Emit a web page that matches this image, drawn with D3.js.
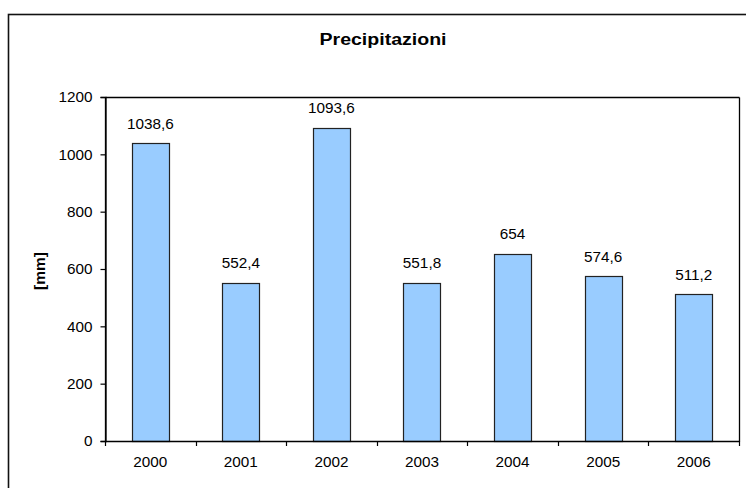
<!DOCTYPE html>
<html><head><meta charset="utf-8">
<script src="https://cdn.jsdelivr.net/npm/d3@7"></script>
<style>body{margin:0;background:#fff}svg{display:block}text{font-family:"Liberation Sans",Arial,sans-serif}</style>
</head><body>
<svg id="c" width="746" height="488"></svg>
<script>
const categories = ["2000","2001","2002","2003","2004","2005","2006"];
const values = [1038.6, 552.4, 1093.6, 551.8, 654, 574.6, 511.2];
const labels = ["1038,6","552,4","1093,6","551,8","654","574,6","511,2"];
const yTicks = [0,200,400,600,800,1000,1200];
const title = "Precipitazioni";
const yTitle = "[mm]";

const svg = d3.select("#c");
const m = {left:105, right:739, top:97, bottom:441};
const FS = 15.3;

svg.append("rect").attr("class","outer").attr("x",8.5).attr("y",14.5).attr("width",745).attr("height",490)
  .attr("fill","none").attr("stroke","#111").attr("stroke-width",1.6);

const x = d3.scaleBand().domain(categories).range([m.left,m.right]).paddingInner(0.59).paddingOuter(0.295);
const xb = d3.scaleBand().domain(categories).range([m.left,m.right]);
const y = d3.scaleLinear().domain([0,1200]).range([m.bottom,m.top]);

svg.selectAll("rect.bar").data(values).join("rect").attr("class","bar")
  .attr("x",(d,i)=>Math.round(x(categories[i]))+0.5)
  .attr("y",d=>Math.round(y(d))+0.5)
  .attr("width",Math.round(x.bandwidth()))
  .attr("height",d=>Math.round(m.bottom-y(d)))
  .attr("fill","#99ccff").attr("stroke","#222").attr("stroke-width",1.2);

svg.selectAll("text.lbl").data(values).join("text").attr("class","lbl")
  .attr("x",(d,i)=>x(categories[i])+x.bandwidth()/2)
  .attr("y",d=>y(d)-14.5)
  .attr("text-anchor","middle").attr("font-size",FS).attr("fill","#000")
  .text((d,i)=>labels[i]);

const ya = svg.append("g").attr("transform",`translate(${m.left+0.5},0)`)
  .call(d3.axisLeft(y).tickValues(yTicks).tickSize(5).tickPadding(8).tickFormat(d3.format("d")));
ya.select(".domain").attr("stroke","#000").attr("stroke-width",1.3);
ya.selectAll("line").attr("stroke-width",1.2);
ya.selectAll("text").attr("font-size",FS).attr("fill","#000").style("font-family","Liberation Sans, Arial, sans-serif");

const xa = svg.append("g").attr("transform",`translate(0,${m.bottom+0.5})`)
  .call(d3.axisBottom(xb).tickSize(0).tickPadding(15));
xa.select(".domain").remove();
xa.selectAll("text").attr("font-size",FS).attr("fill","#000").style("font-family","Liberation Sans, Arial, sans-serif");
const bounds = categories.map(c=>xb(c)).concat([m.right]);
svg.selectAll("line.xt").data(bounds).join("line").attr("class","xt")
  .attr("x1",d=>Math.round(d)+0.5).attr("x2",d=>Math.round(d)+0.5)
  .attr("y1",m.bottom).attr("y2",m.bottom+5).attr("stroke","#000").attr("stroke-width",1.2);

// plot area border
const L = m.left+0.5, R = m.right+0.5, T = m.top+0.5, B = m.bottom+0.5;
const frame = [[L,T,R,T],[R,T,R,B],[L,B,R,B],[L,T,L,B]];
svg.selectAll("line.frame").data(frame).join("line").attr("class","frame")
  .attr("x1",d=>d[0]).attr("y1",d=>d[1]).attr("x2",d=>d[2]).attr("y2",d=>d[3])
  .attr("stroke","#000").attr("stroke-width",1.3);

svg.append("text").attr("x",383).attr("y",44.5).attr("text-anchor","middle")
  .attr("font-size",16).attr("font-weight","bold")
  .attr("textLength",127).attr("lengthAdjust","spacingAndGlyphs").text(title);
svg.append("text").attr("transform","translate(44.5,271) rotate(-90)").attr("text-anchor","middle")
  .attr("font-size",15.5).attr("font-weight","bold").text(yTitle);
</script>
</body></html>
